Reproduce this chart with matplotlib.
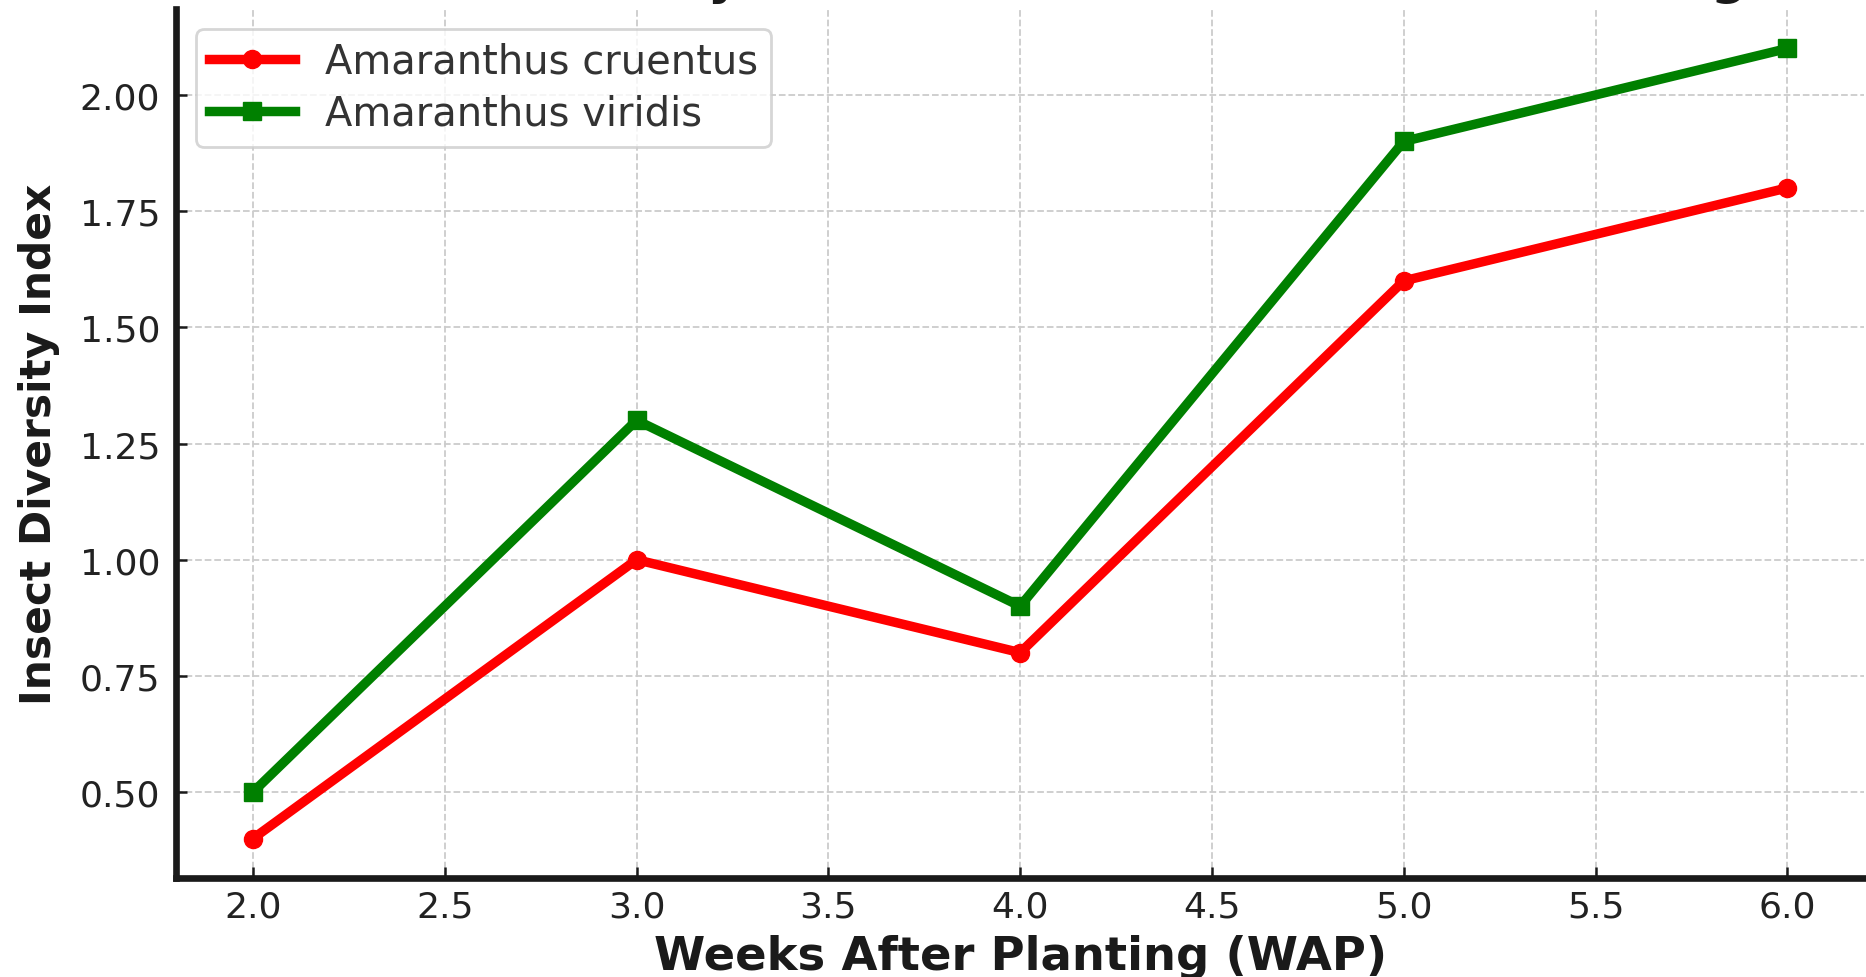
import matplotlib
matplotlib.use("Agg")
import matplotlib.pyplot as plt
import numpy as np

# Data
weeks = [2, 3, 4, 5, 6]
cruentus = [0.40, 1.00, 0.80, 1.60, 1.80]
viridis = [0.50, 1.30, 0.90, 1.90, 2.10]
series_names = ["Amaranthus cruentus", "Amaranthus viridis"]
title_text = "Insect Diversity Index Across Weeks After Planting"
xlabel_text = "Weeks After Planting (WAP)"
ylabel_text = "Insect Diversity Index"

plt.rcParams['font.family'] = ['DejaVu Sans']

fig = plt.figure(figsize=(18.66, 9.78), dpi=100)
ax = fig.add_axes([0.09448, 0.1012, 0.99893 - 0.09448, 0.98978 - 0.1012])

ax.plot(weeks, cruentus, color='red', marker='o', linewidth=6.8,
        markersize=13, label=series_names[0], zorder=3)
ax.plot(weeks, viridis, color='green', marker='s', linewidth=6.8,
        markersize=13, label=series_names[1], zorder=3)

ax.set_xlim(1.8, 6.2)
ax.set_ylim(0.315, 2.185)
ax.set_xticks(np.arange(2.0, 6.01, 0.5))
ax.set_yticks(np.arange(0.5, 2.01, 0.25))
ax.xaxis.set_major_formatter(matplotlib.ticker.FormatStrFormatter('%.1f'))
ax.yaxis.set_major_formatter(matplotlib.ticker.FormatStrFormatter('%.2f'))

ax.grid(True, linestyle='--', color='#cccccc', linewidth=1.3)
ax.set_axisbelow(True)

for s in ['top', 'right']:
    ax.spines[s].set_visible(False)
for s in ['left', 'bottom']:
    ax.spines[s].set_linewidth(4.8)
    ax.spines[s].set_color('#1a1a1a')

ax.tick_params(axis='both', direction='in', length=8, width=1.8,
               color='#1a1a1a', labelsize=26, labelcolor='#222222')
ax.tick_params(axis='x', pad=8.5)
ax.tick_params(axis='y', pad=11.5)

ax.set_xlabel(xlabel_text, fontsize=33.5, fontweight='bold', color='#1a1a1a', labelpad=7)
ax.set_ylabel(ylabel_text, fontsize=30.5, fontweight='bold', color='#1a1a1a', labelpad=14)
ax.set_title(title_text, fontsize=36.5, fontweight='bold', color='#1a1a1a', pad=12)

leg = ax.legend(loc='upper left', fontsize=28.8, frameon=True, fancybox=True,
                framealpha=0.8, edgecolor='#cccccc', handlelength=2.15,
                handletextpad=0.75, borderpad=0.32, labelspacing=0.3,
                borderaxespad=0.5)
leg.get_frame().set_linewidth(2)
for t in leg.get_texts():
    t.set_color('#333333')

fig.savefig("out.png", dpi=100)
